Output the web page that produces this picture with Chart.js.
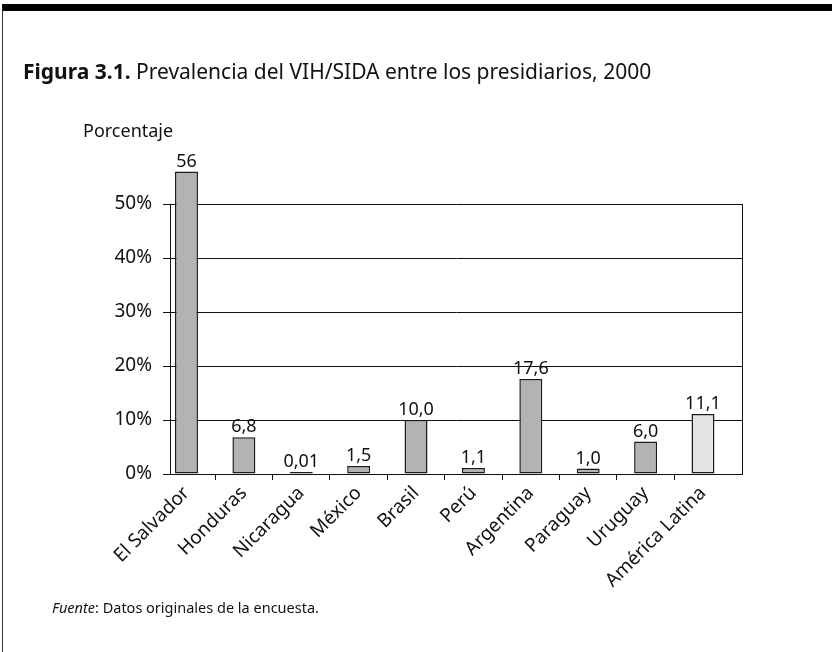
<!DOCTYPE html>
<html lang="es">
<head>
  <meta charset="UTF-8">
  <title>Figura 3.1. Prevalencia del VIH/SIDA entre los presidiarios, 2000</title>
  <style>
    html, body { margin: 0; padding: 0; background: #fff; }
    body { width: 832px; height: 652px; position: relative; overflow: hidden; font-family: "Noto Sans", sans-serif; color: #111; }
    #frame { position: absolute; left: 2px; top: 4px; right: -4px; bottom: -4px; border-top: 7px solid #000; border-left: 1.5px solid #333; }
    #chart { position: absolute; left: 0; top: 0; }
    #title { position: absolute; left: 23px; top: 57px; font-size: 21px; white-space: nowrap; }
    #unit { position: absolute; left: 83px; top: 118px; font-size: 18px; }
    #source { position: absolute; left: 52px; top: 597px; font-size: 14.5px; white-space: nowrap; }
  </style>
  <script src="https://cdn.jsdelivr.net/npm/chart.js"></script>
</head>
<body>
  <div id="frame"></div>
  <canvas id="chart" width="832" height="652"></canvas>
  <div id="title"><b>Figura 3.1.</b> Prevalencia del VIH/SIDA entre los presidiarios, 2000</div>
  <div id="unit">Porcentaje</div>
  <div id="source"><i>Fuente</i>: Datos originales de la encuesta.</div>

  <script>
    // datos de la figura
    const categories = ['El Salvador', 'Honduras', 'Nicaragua', 'México', 'Brasil', 'Perú', 'Argentina', 'Paraguay', 'Uruguay', 'América Latina'];
    const prevalence = [56, 6.8, 0.01, 1.5, 10.0, 1.1, 17.6, 1.0, 6.0, 11.1];
    const valueLabels = ['56', '6,8', '0,01', '1,5', '10,0', '1,1', '17,6', '1,0', '6,0', '11,1'];
    const yTicks = [0, 10, 20, 30, 40, 50];

    const barColors = categories.map(c => c === 'América Latina' ? '#e4e4e4' : '#b3b3b3');

    // etiquetas de valor encima de cada barra
    const valueLabelPlugin = {
      id: 'valueLabels',
      afterDatasetsDraw(chart) {
        const ctx = chart.ctx;
        const meta = chart.getDatasetMeta(0);
        ctx.save();
        ctx.font = '18px "Noto Sans"';
        ctx.fillStyle = '#111';
        ctx.textAlign = 'center';
        ctx.textBaseline = 'alphabetic';
        meta.data.forEach((bar, i) => {
          ctx.fillText(valueLabels[i], bar.x, bar.y - 5);
        });
        ctx.restore();
      }
    };

    new Chart(document.getElementById('chart'), {
      type: 'bar',
      data: {
        datasets: [{
          data: categories.map((c, i) => ({ x: i, y: prevalence[i] })),
          backgroundColor: barColors,
          borderColor: '#1a1a1a',
          borderWidth: 1.5,
          borderSkipped: false,
          minBarLength: 2,
          clip: false,
          barPercentage: 0.5,
          categoryPercentage: 0.8
        }]
      },
      options: {
        responsive: false,
        animation: false,
        layout: { padding: { left: 112, right: 90, top: 204, bottom: 48 } },
        plugins: { legend: { display: false }, tooltip: { enabled: false } },
        scales: {
          x: {
            type: 'linear',
            min: -0.2875,
            max: 9.68,
            offset: false,
            afterBuildTicks: s => { s.ticks = categories.map((c, i) => ({ value: i })); },
            afterFit: s => { s.height = 130; },
            grid: {
              offset: true,
              drawOnChartArea: false,
              drawTicks: true,
              tickLength: 6,
              lineWidth: 1,
              color: c => c.index === undefined ? 'rgba(0,0,0,0)' : '#111'
            },
            border: { display: true, color: '#111', width: 1 },
            ticks: {
              autoSkip: false,
              minRotation: 45,
              maxRotation: 45,
              padding: 2,
              color: '#111',
              font: { family: '"Noto Sans"', size: 19 },
              callback: v => categories[v]
            }
          },
          y: {
            min: 0,
            max: 50,
            afterBuildTicks: s => { s.ticks = yTicks.map(v => ({ value: v })); },
            afterFit: s => { s.width = 58; },
            grid: { color: '#111', lineWidth: 1, tickLength: 7, drawTicks: true },
            border: { display: true, color: '#111', width: 1 },
            ticks: {
              padding: 11,
              color: '#111',
              font: { family: '"Noto Sans"', size: 19 },
              callback: v => v + '%'
            }
          },
          y2: {
            position: 'right',
            min: 0,
            max: 50,
            afterFit: s => { s.width = 0; },
            grid: { drawOnChartArea: false, drawTicks: false },
            ticks: { display: false },
            border: { display: true, color: '#111', width: 1 }
          }
        }
      },
      plugins: [valueLabelPlugin]
    });
  </script>
</body>
</html>
